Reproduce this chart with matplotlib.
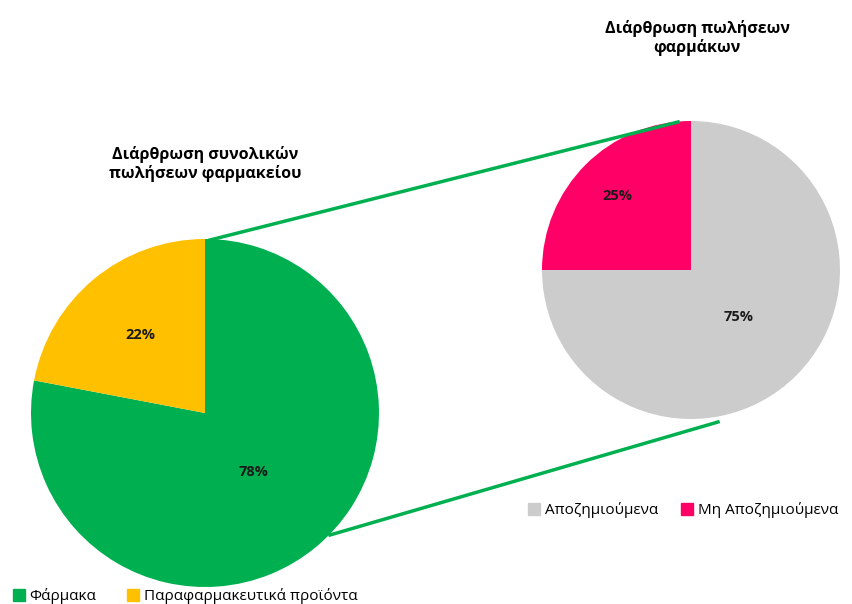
import numpy as np
import matplotlib.pyplot as plt
from matplotlib.patches import Patch

plt.rcParams['font.family'] = ['Open Sans', 'DejaVu Sans']

# data
left_labels = ['Φάρμακα', 'Παραφαρμακευτικά προϊόντα']
left_values = [78, 22]
left_colors = ['#00B050', '#FFC000']
right_labels = ['Αποζημιούμενα', 'Μη Αποζημιούμενα']
right_values = [75, 25]
right_colors = ['#CCCCCC', '#FF0066']
left_title = 'Διάρθρωση συνολικών\nπωλήσεων φαρμακείου'
right_title = 'Διάρθρωση πωλήσεων\nφαρμάκων'

fig = plt.figure(figsize=(8.53, 6.04), dpi=100)
ax = fig.add_axes([0, 0, 1, 1])


def draw_pie(vals, cols, center, radius, dists):
    wedges, texts, autos = ax.pie(vals, colors=cols, startangle=90, counterclock=False,
                                  center=center, radius=radius, autopct='%1.0f%%',
                                  textprops=dict(fontsize=10.5, fontweight='bold', color='#1a1a1a'),
                                  wedgeprops=dict(linewidth=0), frame=True)
    for w, t, d in zip(wedges, autos, dists):
        ang = np.deg2rad((w.theta1 + w.theta2) / 2)
        t.set_position((center[0] + d * radius * np.cos(ang),
                        center[1] + d * radius * np.sin(ang)))
    return wedges


draw_pie(left_values, left_colors, (205, 191), 174, [0.44, 0.58])
draw_pie(right_values, right_colors, (691, 334), 149, [0.45, 0.70])
ax.set_xlim(0, 853)
ax.set_ylim(0, 604)
ax.set_aspect('equal')
ax.axis('off')

# γραμμές σύνδεσης
ax.plot([210, 678], [364, 482], color='#00B050', lw=2.5, zorder=5)
ax.plot([330, 718], [69, 182], color='#00B050', lw=2.5, zorder=5)

ax.text(205, 440, left_title, ha='center', va='center', fontsize=11.5, fontweight='bold')
ax.text(697, 566, right_title, ha='center', va='center', fontsize=11.5, fontweight='bold')

leg1 = ax.legend(handles=[Patch(color=c, label=l) for c, l in zip(left_colors, left_labels)],
                 loc='center left', bbox_to_anchor=(2, 8), bbox_transform=ax.transData,
                 ncol=2, frameon=False, fontsize=11, handlelength=0.8, handleheight=0.8,
                 handletextpad=0.3, columnspacing=2.0, borderpad=0.2)
ax.add_artist(leg1)
ax.legend(handles=[Patch(color=c, label=l) for c, l in zip(right_colors, right_labels)],
          loc='center left', bbox_to_anchor=(514, 94), bbox_transform=ax.transData,
          ncol=2, frameon=False, fontsize=11, handlelength=0.8, handleheight=0.8,
          handletextpad=0.3, columnspacing=1.5)

fig.savefig('out.png', dpi=100)
